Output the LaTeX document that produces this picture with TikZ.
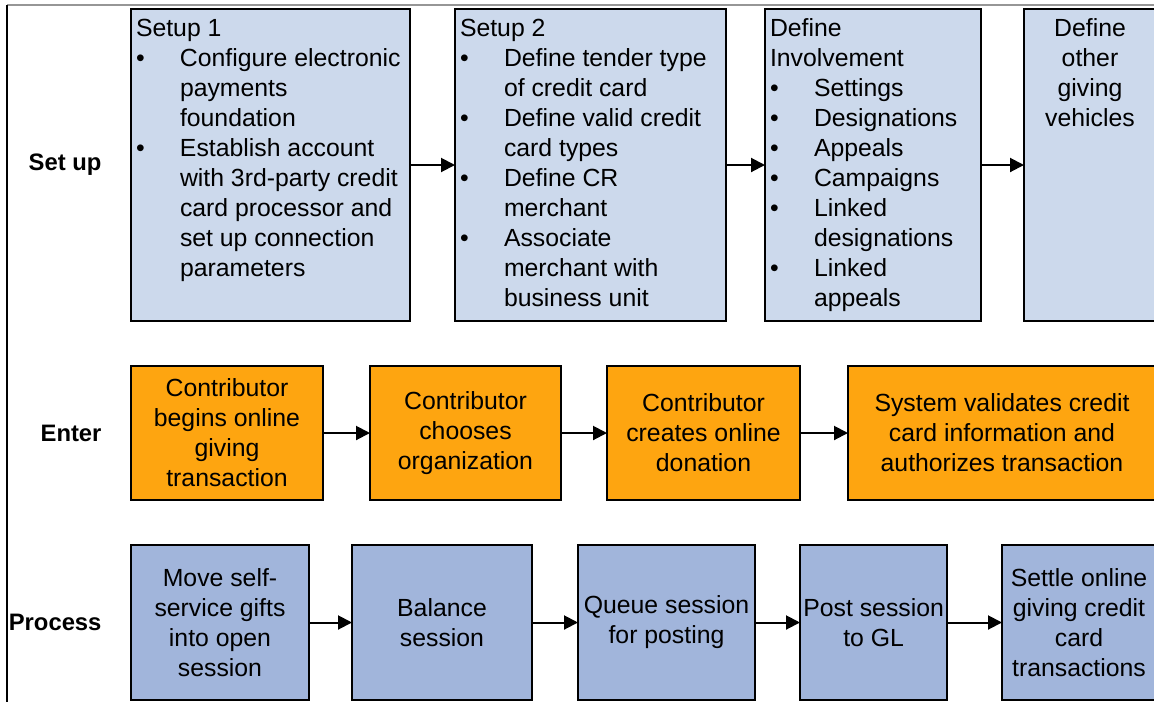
\documentclass[tikz,border=0pt]{standalone}
\usepackage{fontspec}
\setmainfont{Liberation Sans}
\usepackage{tikz}
\usetikzlibrary{arrows.meta,shadows}
\definecolor{setupBlue}{RGB}{204,217,236}
\definecolor{enterOrange}{RGB}{254,165,16}
\definecolor{processBlue}{RGB}{161,181,219}
\definecolor{frameGray}{RGB}{150,150,150}
\newcommand{\bul}{\makebox[44pt][l]{\textbullet}}
\newcommand{\ind}{\hspace*{44pt}}

\begin{document}
\begin{tikzpicture}[
    x=1pt, y=-1pt,
    box/.style={draw=black, line width=2pt, anchor=north west, outer sep=0pt,
      drop shadow={shadow xshift=1.2pt, shadow yshift=-1.2pt, fill=black, opacity=0.35},
      font=\fontsize{24.8}{30}\selectfont},
    setupbox/.style={box, fill=setupBlue, inner xsep=5pt, inner ysep=10pt},
    enterbox/.style={box, fill=enterOrange, align=center, minimum height=134pt},
    procbox/.style={box, fill=processBlue, align=center, minimum height=155pt},
    rowlabel/.style={anchor=east, font=\fontsize{23.8}{30}\selectfont\bfseries},
    flow/.style={->, line width=2pt},
    >={Triangle[length=14pt,width=14pt]}
  ]
  \useasboundingbox (0,0) rectangle (1154,702);
  \clip (0,0) rectangle (1154,702);

  % frame
  \draw[frameGray, line width=1.5pt] (7,5) -- (1154,5);
  \draw[black, line width=1.5pt] (7,5) -- (7,702);

  % row labels
  \node[rowlabel] (lblSetup) at (105,165) {Set up};
  \node[rowlabel] (lblEnter) at (105,433) {Enter};
  \node[rowlabel] (lblProc) at (105,622) {Process};

  % Set up row
  \node[setupbox] (setupA) at (131,9) {\parbox[t][292pt][t]{269pt}{Setup 1\\
    \bul Configure electronic\\ \ind payments\\ \ind foundation\\
    \bul Establish account\\ \ind with 3rd-party credit\\ \ind card processor and\\
    \ind set up connection\\ \ind parameters}};
  \node[setupbox] (setupB) at (455,9) {\parbox[t][292pt][t]{261pt}{Setup 2\\
    \bul Define tender type\\ \ind of credit card\\
    \bul Define valid credit\\ \ind card types\\
    \bul Define CR\\ \ind merchant\\
    \bul Associate\\ \ind merchant with\\ \ind business unit}};
  \node[setupbox] (involve) at (765,9) {\parbox[t][292pt][t]{206pt}{Define\\ Involvement\\
    \bul Settings\\ \bul Designations\\ \bul Appeals\\ \bul Campaigns\\
    \bul Linked\\ \ind designations\\ \bul Linked\\ \ind appeals}};
  \node[setupbox] (vehicles) at (1024,9) {\parbox[t][292pt][t]{122pt}{\centering
    Define\\ other\\ giving\\ vehicles}};

  \draw[flow] (setupA) -- (setupB);
  \draw[flow] (setupB) -- (involve);
  \draw[flow] (involve) -- (vehicles);

  % Enter row
  \node[enterbox, minimum width=192pt] (enterA) at (131,366) {Contributor\\ begins online\\ giving\\ transaction};
  \node[enterbox, minimum width=191pt] (enterB) at (370,366) {Contributor\\ chooses\\ organization};
  \node[enterbox, minimum width=193pt] (enterC) at (607,366) {Contributor\\ creates online\\ donation};
  \node[enterbox, minimum width=308pt] (enterD) at (848,366) {System validates credit\\ card information and\\ authorizes transaction};

  \draw[flow] (enterA) -- (enterB);
  \draw[flow] (enterB) -- (enterC);
  \draw[flow] (enterC) -- (enterD);

  % Process row
  \node[procbox, minimum width=178pt] (procA) at (131,545) {Move self-\\ service gifts\\ into open\\ session};
  \node[procbox, minimum width=180pt] (procB) at (352,545) {Balance\\ session};
  \node[procbox, minimum width=177pt] (procC) at (578,545) {Queue session\\ for posting};
  \node[procbox, minimum width=146pt] (procD) at (800,545) {Post session\\ to GL};
  \node[procbox, minimum width=154pt] (procE) at (1002,545) {Settle online\\ giving credit\\ card\\ transactions};

  \draw[flow] (procA) -- (procB);
  \draw[flow] (procB) -- (procC);
  \draw[flow] (procC) -- (procD);
  \draw[flow] (procD) -- (procE);
\end{tikzpicture}
\end{document}
